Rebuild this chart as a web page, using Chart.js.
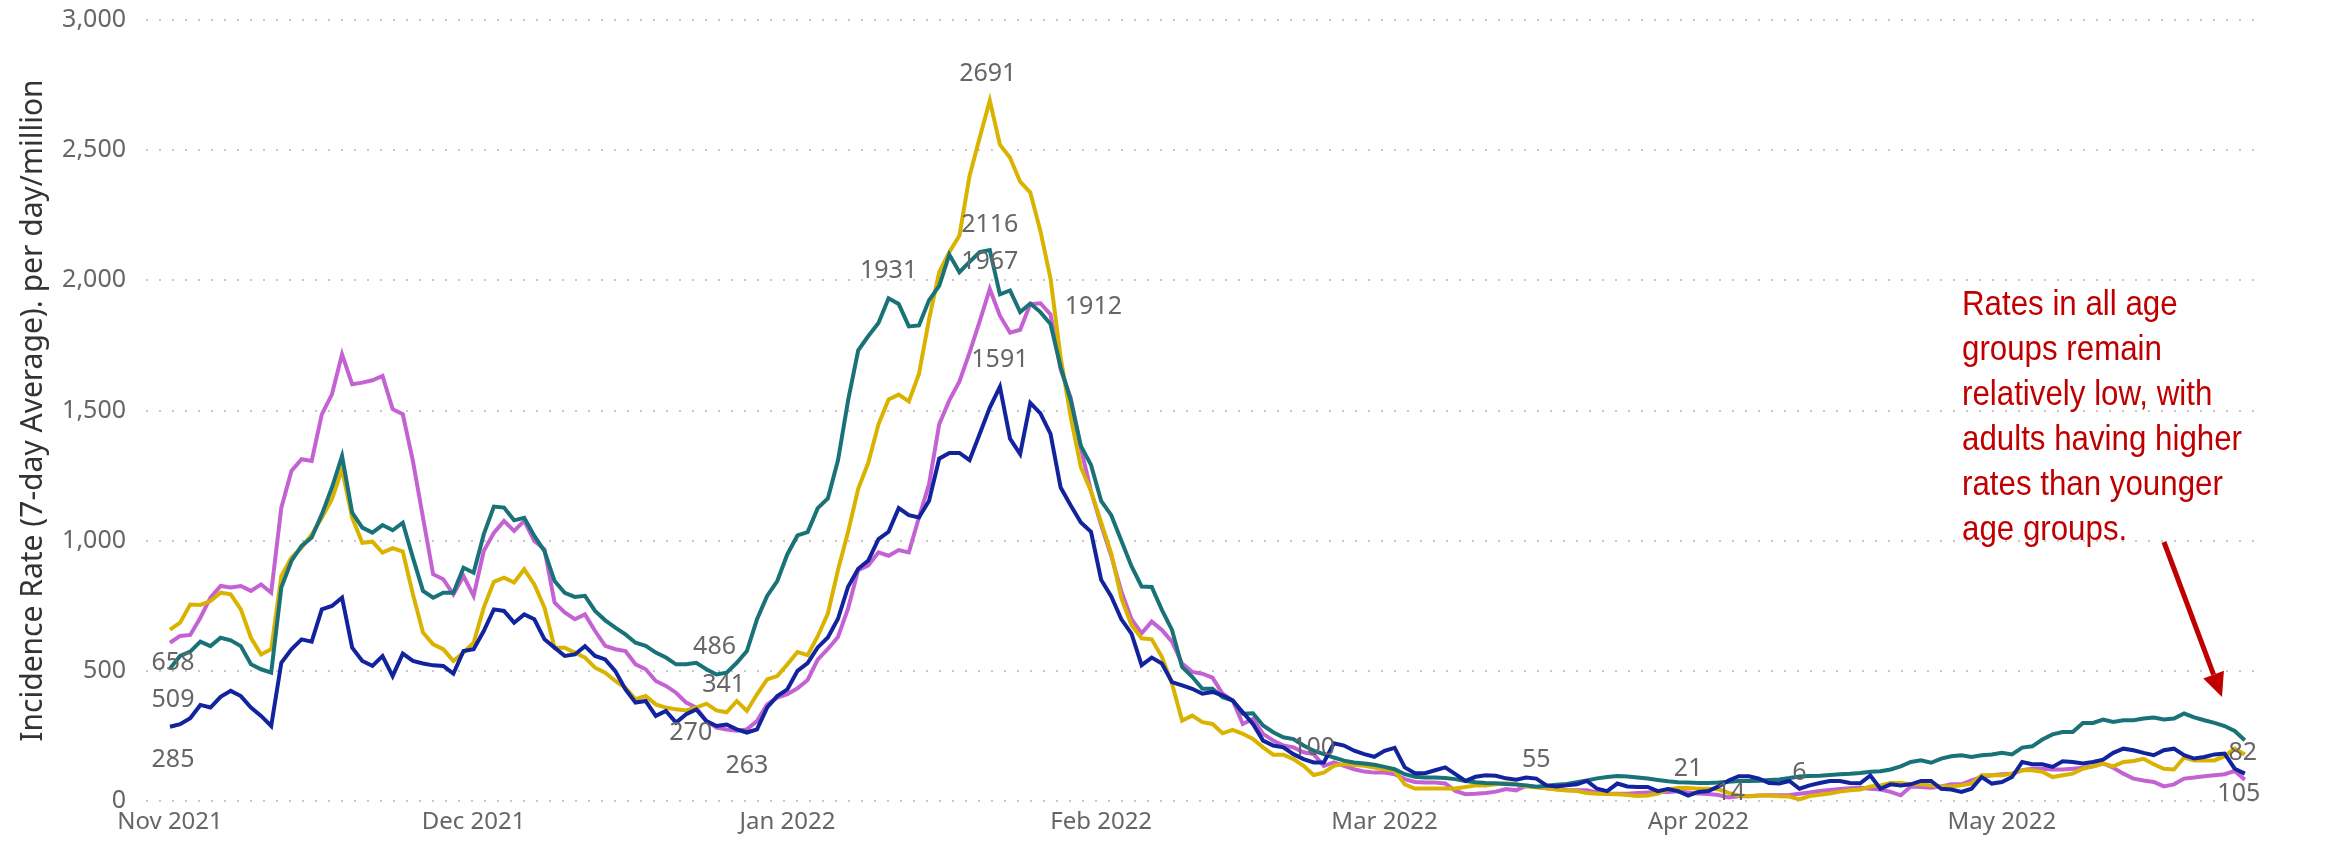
<!DOCTYPE html>
<html>
<head>
<meta charset="utf-8">
<title>Incidence rate by age group</title>
<script src="https://cdn.jsdelivr.net/npm/chart.js@4.4.0/dist/chart.umd.min.js"></script>
<style>
  html, body { margin: 0; padding: 0; background: #fff; }
  #wrap { width: 2328px; height: 842px; }
</style>
</head>
<body>
<div id="wrap"><canvas id="grafico" width="2328" height="842"></canvas></div>
<script>
// Daily series, starting 1 Nov 2021 (one value per day)
const startDate = '2021-11-01';

const monthTicks = ['2021-11-01', '2021-12-01', '2022-01-01', '2022-02-01', '2022-03-01', '2022-04-01', '2022-05-01'];
const monthLabels = ['Nov 2021', 'Dec 2021', 'Jan 2022', 'Feb 2022', 'Mar 2022', 'Apr 2022', 'May 2022'];
const yTicks = [0, 500, 1000, 1500, 2000, 2500, 3000];

const seriesNames = ['Group 1', 'Group 2', 'Group 3', 'Group 4'];

const blueValues = [
  285, 295, 318, 369, 359, 400, 423, 403, 359, 327,
  288, 531, 583, 621, 612, 736, 749, 781, 589, 538,
  519, 557, 480, 566, 538, 528, 521, 519, 489, 576,
  583, 653, 736, 730, 685, 717, 698, 621, 589, 557,
  563, 595, 557, 544, 499, 429, 378, 384, 327, 346,
  301, 333, 352, 307, 288, 294, 275, 263, 275, 359,
  403, 429, 500, 530, 590, 628, 700, 823, 892, 924,
  1006, 1034, 1125, 1098, 1089, 1153, 1315, 1337, 1337, 1309,
  1410, 1511, 1591, 1392, 1333, 1529, 1489, 1410, 1204, 1135,
  1070, 1034, 850, 786, 698, 643, 522, 551, 528, 457,
  444, 431, 412, 419, 406, 386, 341, 296, 232, 213,
  206, 180, 161, 148, 148, 222, 213, 193, 180, 170,
  193, 204, 129, 107, 107, 118, 129, 103, 77, 93,
  99, 97, 87, 82, 90, 86, 60, 56, 60, 64,
  77, 47, 38, 67, 56, 54, 54, 38, 46, 38,
  21, 35, 38, 56, 79, 95, 95, 86, 69, 67,
  77, 47, 60, 69, 77, 77, 69, 68, 98, 47,
  64, 60, 64, 77, 77, 47, 44, 35, 47, 92,
  67, 73, 92, 150, 141, 141, 131, 153, 150, 144,
  150, 159, 185, 201, 195, 185, 176, 195, 201, 176,
  163, 169, 179, 182, 124, 105
];

const tealValues = [
  509, 557, 574, 612, 595, 627, 617, 595, 525, 506,
  493, 820, 922, 980, 1012, 1101, 1204, 1325, 1108, 1050,
  1031, 1060, 1040, 1069, 935, 807, 781, 800, 800, 896,
  877, 1024, 1131, 1127, 1078, 1088, 1018, 960, 845, 800,
  784, 788, 730, 694, 666, 640, 608, 596, 570, 551,
  525, 525, 531, 506, 486, 493, 531, 576, 698, 788,
  845, 948, 1020, 1033, 1125, 1162, 1309, 1539, 1731, 1786,
  1836, 1931, 1909, 1823, 1827, 1924, 1979, 2099, 2031, 2071,
  2108, 2116, 1946, 1961, 1878, 1911, 1878, 1832, 1667, 1539,
  1364, 1291, 1153, 1098, 1000, 902, 824, 822, 734, 657,
  515, 477, 431, 431, 399, 386, 335, 337, 290, 264,
  245, 238, 213, 193, 180, 167, 155, 148, 144, 139,
  131, 122, 103, 93, 90, 90, 88, 84, 77, 72,
  69, 68, 65, 63, 60, 55, 59, 62, 65, 72,
  79, 87, 92, 96, 94, 90, 86, 81, 76, 72,
  71, 69, 69, 71, 74, 77, 77, 78, 81, 83,
  88, 94, 96, 97, 100, 103, 105, 108, 112, 114,
  121, 133, 150, 156, 147, 163, 172, 176, 169, 176,
  179, 185, 179, 205, 210, 236, 256, 265, 265, 300,
  300, 313, 304, 310, 310, 317, 321, 313, 317, 336,
  321, 310, 300, 288, 269, 233
];

const yellowValues = [
  658, 685, 755, 753, 768, 800, 794, 736, 627, 563,
  583, 864, 935, 973, 1024, 1088, 1159, 1274, 1088, 992,
  996, 954, 971, 958, 794, 647, 602, 583, 538, 570,
  608, 743, 842, 858, 839, 890, 832, 743, 589, 589,
  570, 551, 512, 493, 461, 435, 391, 403, 371, 359,
  352, 348, 359, 374, 348, 341, 384, 346, 410, 467,
  480, 525, 572, 560, 633, 720, 887, 1034, 1199, 1300,
  1447, 1542, 1561, 1535, 1640, 1851, 2031, 2108, 2172, 2401,
  2548, 2691, 2521, 2471, 2379, 2337, 2190, 2007, 1704, 1474,
  1282, 1190, 1070, 951, 779, 676, 625, 621, 554, 451,
  309, 328, 303, 296, 260, 273, 258, 238, 206, 178,
  178, 161, 135, 100, 109, 135, 142, 139, 135, 129,
  122, 116, 64, 48, 48, 48, 48, 48, 54, 60,
  60, 64, 68, 64, 56, 53, 49, 44, 40, 38,
  31, 28, 27, 26, 23, 19, 21, 29, 44, 50,
  50, 47, 47, 45, 31, 21, 18, 21, 21, 18,
  17, 6, 19, 24, 29, 36, 41, 44, 56, 60,
  69, 69, 64, 64, 60, 56, 56, 60, 67, 99,
  99, 99, 105, 118, 118, 112, 92, 99, 105, 124,
  133, 144, 133, 150, 154, 162, 141, 124, 121, 167,
  156, 156, 156, 172, 201, 179
];

const magentaValues = [
  608, 634, 638, 704, 781, 826, 820, 826, 807, 832,
  800, 1127, 1268, 1313, 1306, 1485, 1562, 1716, 1601, 1607,
  1616, 1633, 1505, 1486, 1306, 1088, 871, 852, 794, 864,
  788, 960, 1030, 1076, 1037, 1076, 999, 967, 762, 724,
  698, 717, 653, 596, 583, 576, 525, 506, 461, 442,
  416, 378, 359, 307, 282, 275, 270, 275, 307, 371,
  397, 410, 433, 465, 543, 584, 630, 740, 887, 905,
  955, 942, 964, 955, 1089, 1217, 1447, 1539, 1612, 1722,
  1842, 1967, 1864, 1799, 1810, 1909, 1912, 1869, 1658, 1548,
  1355, 1190, 1061, 942, 805, 698, 644, 689, 657, 612,
  528, 496, 489, 474, 412, 386, 296, 316, 258, 232,
  213, 206, 187, 180, 135, 148, 135, 122, 113, 109,
  109, 103, 84, 73, 71, 71, 67, 39, 26, 28,
  31, 36, 46, 41, 59, 54, 49, 45, 42, 41,
  41, 33, 29, 28, 28, 31, 33, 35, 35, 37,
  33, 29, 27, 23, 14, 18, 18, 21, 22, 22,
  23, 28, 33, 38, 42, 46, 49, 51, 47, 44,
  35, 22, 56, 54, 51, 56, 64, 64, 79, 92,
  99, 103, 105, 118, 124, 124, 121, 121, 124, 128,
  133, 144, 128, 105, 86, 79, 73, 56, 64, 86,
  90, 95, 99, 103, 115, 82
];

const seriesValues = [blueValues, tealValues, yellowValues, magentaValues];
const seriesColors = ['#12239E', '#197278', '#D9B300', '#C462D4'];

// Which points carry a value label (series index, day index) and where the text sits
const labelSpots = [
  { s: 2, i: 0, dx: 3, dy: 33 },
  { s: 1, i: 0, dx: 3, dy: 31 },
  { s: 0, i: 0, dx: 3, dy: 33 },
  { s: 1, i: 54, dx: -2, dy: -28 },
  { s: 2, i: 55, dx: -3, dy: -27 },
  { s: 3, i: 56, dx: -46, dy: 2 },
  { s: 0, i: 57, dx: 0, dy: 33 },
  { s: 1, i: 71, dx: 0, dy: -27 },
  { s: 2, i: 81, dx: -2, dy: -27 },
  { s: 1, i: 81, dx: 0, dy: -25 },
  { s: 3, i: 81, dx: 0, dy: -27 },
  { s: 3, i: 86, dx: 53, dy: 4 },
  { s: 0, i: 82, dx: 0, dy: -27 },
  { s: 2, i: 113, dx: 0, dy: -27 },
  { s: 1, i: 135, dx: 0, dy: -27 },
  { s: 0, i: 150, dx: 0, dy: -27 },
  { s: 3, i: 154, dx: 2, dy: -4 },
  { s: 2, i: 161, dx: 0, dy: -27 },
  { s: 3, i: 205, dx: -2, dy: -27 },
  { s: 0, i: 205, dx: -6, dy: 20 }
];

const noteLines = ['Rates in all age', 'groups remain', 'relatively low, with', 'adults having higher', 'rates than younger', 'age groups.'];

(function() {
    'use strict';

    var fuente = "'Noto Sans', 'Open Sans', sans-serif";
    var gris = '#666666';

    function dayIndex(s) {
        return Math.round((Date.parse(s) - Date.parse(startDate)) / 86400000);
    }
    var tickDays = monthTicks.map(dayIndex);

    var datasets = seriesValues.map(function(vals, k) {
        return {
            label: seriesNames[k],
            data: vals.map(function(v, i) { return { x: i, y: v }; }),
            borderColor: seriesColors[k],
            backgroundColor: seriesColors[k],
            borderWidth: 4,
            pointRadius: 0,
            tension: 0,
            fill: false
        };
    });

    // Etiquetas de valor sobre puntos concretos
    var valueLabels = {
        id: 'valueLabels',
        afterDatasetsDraw: function(chart) {
            var ctx = chart.ctx;
            ctx.save();
            ctx.font = '25px ' + fuente;
            ctx.fillStyle = gris;
            ctx.textAlign = 'center';
            ctx.textBaseline = 'middle';
            labelSpots.forEach(function(l) {
                var pt = chart.getDatasetMeta(l.s).data[l.i];
                if (!pt) return;
                ctx.fillText(String(seriesValues[l.s][l.i]), pt.x + l.dx, pt.y + l.dy);
            });
            ctx.restore();
        }
    };

    // Nota en rojo con flecha
    var nota = {
        id: 'nota',
        afterDraw: function(chart) {
            var ctx = chart.ctx;
            ctx.save();
            ctx.font = "35px 'Liberation Sans Narrow', 'Liberation Sans', Arial, sans-serif";
            ctx.fillStyle = '#C00000';
            ctx.textBaseline = 'middle';
            var ancho = ctx.measureText('adults having higher').width;
            var sx = 280 / ancho;
            ctx.translate(1962, 0);
            ctx.scale(sx, 1);
            noteLines.forEach(function(t, n) {
                ctx.fillText(t, 0, 305 + n * 45);
            });
            ctx.restore();

            // flecha
            var x1 = 2164, y1 = 542, x2 = 2222, y2 = 697;
            var ang = Math.atan2(y2 - y1, x2 - x1);
            var largo = 24, mitad = 11;
            var bx = x2 - largo * Math.cos(ang), by = y2 - largo * Math.sin(ang);
            ctx.save();
            ctx.strokeStyle = '#C00000';
            ctx.fillStyle = '#C00000';
            ctx.lineWidth = 5;
            ctx.beginPath();
            ctx.moveTo(x1, y1);
            ctx.lineTo(bx, by);
            ctx.stroke();
            ctx.beginPath();
            ctx.moveTo(x2, y2);
            ctx.lineTo(bx + mitad * Math.sin(ang), by - mitad * Math.cos(ang));
            ctx.lineTo(bx - mitad * Math.sin(ang), by + mitad * Math.cos(ang));
            ctx.closePath();
            ctx.fill();
            ctx.restore();
        }
    };

    new Chart(document.getElementById('grafico'), {
        type: 'line',
        data: { datasets: datasets },
        options: {
            responsive: false,
            animation: false,
            devicePixelRatio: 1,
            layout: { padding: { top: 20, right: 68, left: 0, bottom: 0 } },
            plugins: {
                legend: { display: false },
                tooltip: { enabled: false }
            },
            scales: {
                x: {
                    type: 'linear',
                    min: -2.37,
                    max: 206.5,
                    grid: { display: false },
                    border: { display: false },
                    afterBuildTicks: function(scale) {
                        scale.ticks = tickDays.map(function(d) { return { value: d }; });
                    },
                    afterFit: function(scale) {
                        scale.height = 41;
                        scale.paddingLeft = 0;
                        scale.paddingRight = 0;
                    },
                    ticks: {
                        autoSkip: false,
                        maxRotation: 0,
                        padding: -1,
                        color: gris,
                        font: { family: fuente, size: 24 },
                        callback: function(v) {
                            var k = tickDays.indexOf(v);
                            return k >= 0 ? monthLabels[k] : '';
                        }
                    }
                },
                y: {
                    min: 0,
                    max: 3000,
                    border: { display: false, dash: [2, 11] },
                    grid: {
                        color: '#c8c8c8',
                        lineWidth: 2,
                        drawTicks: false
                    },
                    afterBuildTicks: function(scale) {
                        scale.ticks = yTicks.map(function(v) { return { value: v }; });
                    },
                    afterFit: function(scale) {
                        scale.width = 146;
                        // la separación de las etiquetas no debe empujar el área del gráfico
                        scale.paddingTop = 0;
                        scale.paddingBottom = 0;
                    },
                    ticks: {
                        padding: 20,
                        color: gris,
                        font: { family: fuente, size: 25 },
                        callback: function(v) { return v.toLocaleString('en-US'); }
                    },
                    title: {
                        display: true,
                        text: 'Incidence Rate (7-day Average). per day/million',
                        color: '#333333',
                        font: { family: fuente, size: 30 },
                        padding: { top: 15, bottom: 0 }
                    }
                }
            }
        },
        plugins: [valueLabels, nota]
    });
})();
</script>
</body>
</html>
